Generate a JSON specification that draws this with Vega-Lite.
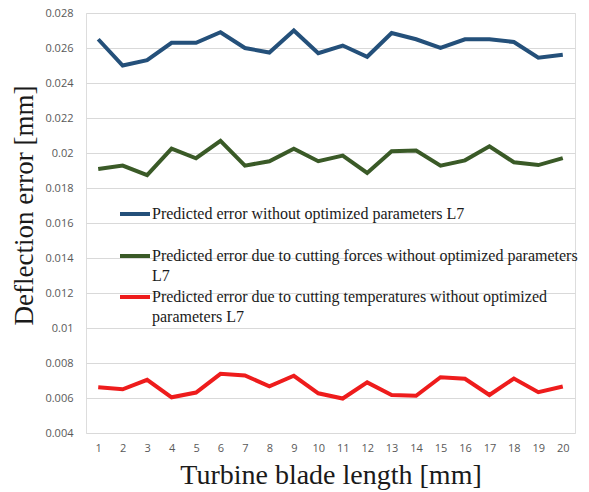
{
  "$schema": "https://vega.github.io/schema/vega-lite/v6.json",
  "width": 489,
  "height": 420,
  "autosize": {"type": "none"},
  "padding": {"left": 86, "top": 13, "right": 14, "bottom": 59},
  "background": "white",
  "config": {"style": {"guide-label": {"lineHeight": 20}}},
  "data": {
    "values": [
      {"x": 1, "s": "A", "v": 0.0265}, {"x": 2, "s": "A", "v": 0.0250}, {"x": 3, "s": "A", "v": 0.0253}, {"x": 4, "s": "A", "v": 0.0263}, {"x": 5, "s": "A", "v": 0.0263},
      {"x": 6, "s": "A", "v": 0.0269}, {"x": 7, "s": "A", "v": 0.0260}, {"x": 8, "s": "A", "v": 0.02574}, {"x": 9, "s": "A", "v": 0.0270}, {"x": 10, "s": "A", "v": 0.0257},
      {"x": 11, "s": "A", "v": 0.02614}, {"x": 12, "s": "A", "v": 0.0255}, {"x": 13, "s": "A", "v": 0.02686}, {"x": 14, "s": "A", "v": 0.0265}, {"x": 15, "s": "A", "v": 0.0260},
      {"x": 16, "s": "A", "v": 0.0265}, {"x": 17, "s": "A", "v": 0.0265}, {"x": 18, "s": "A", "v": 0.02634}, {"x": 19, "s": "A", "v": 0.02545}, {"x": 20, "s": "A", "v": 0.02562},
      {"x": 1, "s": "B", "v": 0.01909}, {"x": 2, "s": "B", "v": 0.01928}, {"x": 3, "s": "B", "v": 0.01873}, {"x": 4, "s": "B", "v": 0.02025}, {"x": 5, "s": "B", "v": 0.0197},
      {"x": 6, "s": "B", "v": 0.0207}, {"x": 7, "s": "B", "v": 0.01928}, {"x": 8, "s": "B", "v": 0.01953}, {"x": 9, "s": "B", "v": 0.02025}, {"x": 10, "s": "B", "v": 0.01953},
      {"x": 11, "s": "B", "v": 0.01985}, {"x": 12, "s": "B", "v": 0.01886}, {"x": 13, "s": "B", "v": 0.0201}, {"x": 14, "s": "B", "v": 0.02014}, {"x": 15, "s": "B", "v": 0.01928},
      {"x": 16, "s": "B", "v": 0.01958}, {"x": 17, "s": "B", "v": 0.02038}, {"x": 18, "s": "B", "v": 0.01947}, {"x": 19, "s": "B", "v": 0.01931}, {"x": 20, "s": "B", "v": 0.01971},
      {"x": 1, "s": "C", "v": 0.00662}, {"x": 2, "s": "C", "v": 0.0065}, {"x": 3, "s": "C", "v": 0.00704}, {"x": 4, "s": "C", "v": 0.00604}, {"x": 5, "s": "C", "v": 0.00631},
      {"x": 6, "s": "C", "v": 0.00738}, {"x": 7, "s": "C", "v": 0.00729}, {"x": 8, "s": "C", "v": 0.00667}, {"x": 9, "s": "C", "v": 0.00727}, {"x": 10, "s": "C", "v": 0.00627},
      {"x": 11, "s": "C", "v": 0.00597}, {"x": 12, "s": "C", "v": 0.00689}, {"x": 13, "s": "C", "v": 0.00617}, {"x": 14, "s": "C", "v": 0.00613}, {"x": 15, "s": "C", "v": 0.00719},
      {"x": 16, "s": "C", "v": 0.0071}, {"x": 17, "s": "C", "v": 0.00617}, {"x": 18, "s": "C", "v": 0.00711}, {"x": 19, "s": "C", "v": 0.00633}, {"x": 20, "s": "C", "v": 0.00666}
    ]
  },
  "encoding": {
    "x": {
      "field": "x", "type": "ordinal",
      "scale": {"type": "point", "padding": 0.5},
      "axis": {
        "title": "Turbine blade length [mm]",
        "titleFont": "Liberation Serif", "titleFontSize": 28, "titleFontWeight": "normal", "titleColor": "#1a1a1a",
        "titlePadding": 8,
        "labelAngle": 0, "labelFont": "Open Sans", "labelFontSize": 11, "labelColor": "#595959",
        "labelPadding": 9, "ticks": false, "domain": false, "grid": false
      }
    },
    "y": {
      "field": "v", "type": "quantitative",
      "scale": {"domain": [0.004, 0.028], "nice": false, "zero": false},
      "axis": {
        "title": "Deflection error [mm]",
        "titleFont": "Liberation Serif", "titleFontSize": 27, "titleFontWeight": "normal", "titleColor": "#1a1a1a",
        "titleX": -62, "titleY": 192, "titleAnchor": "middle", "titleAlign": "center", "titleBaseline": "middle",
        "values": [0.004, 0.006, 0.008, 0.01, 0.012, 0.014, 0.016, 0.018, 0.02, 0.022, 0.024, 0.026, 0.028],
        "format": "~g",
        "labelFont": "Open Sans", "labelFontSize": 11, "labelColor": "#595959", "labelPadding": 13,
        "ticks": false, "domain": false, "grid": true, "gridColor": "#d9d9d9", "gridWidth": 1
      }
    }
  },
  "layer": [
    {
      "transform": [{"filter": "datum.s != 'C'"}],
      "mark": {"type": "line", "strokeWidth": 4, "strokeJoin": "miter", "strokeCap": "butt"},
      "encoding": {
        "color": {
          "field": "s", "type": "nominal",
          "scale": {"domain": ["A", "B"], "range": ["#24507a", "#3a5a27"]},
          "legend": {
            "title": null, "orient": "none", "legendX": 32, "legendY": 184,
            "symbolType": "stroke", "symbolSize": 900, "symbolStrokeWidth": 4,
            "labelExpr": "datum.value == 'A' ? 'Predicted error without optimized parameters L7' : ['Predicted error due to cutting forces without optimized parameters', 'L7']",
            "labelFont": "Liberation Serif", "labelFontSize": 16, "labelColor": "#1a1a1a", "labelLimit": 600,
            "labelOffset": 0, "rowPadding": 17
          }
        }
      }
    },
    {
      "transform": [{"filter": "datum.s == 'C'"}],
      "mark": {"type": "line", "strokeWidth": 4, "strokeJoin": "miter", "strokeCap": "butt"},
      "encoding": {
        "stroke": {
          "field": "s", "type": "nominal",
          "scale": {"domain": ["C"], "range": ["#ee1c1c"]},
          "legend": {
            "title": null, "orient": "none", "legendX": 32, "legendY": 267,
            "symbolType": "stroke", "symbolSize": 900, "symbolStrokeWidth": 4,
            "labelExpr": "['Predicted error due to cutting temperatures without optimized', 'parameters L7']",
            "labelFont": "Liberation Serif", "labelFontSize": 16, "labelColor": "#1a1a1a", "labelLimit": 600,
            "labelOffset": 0
          }
        }
      }
    }
  ]
}
